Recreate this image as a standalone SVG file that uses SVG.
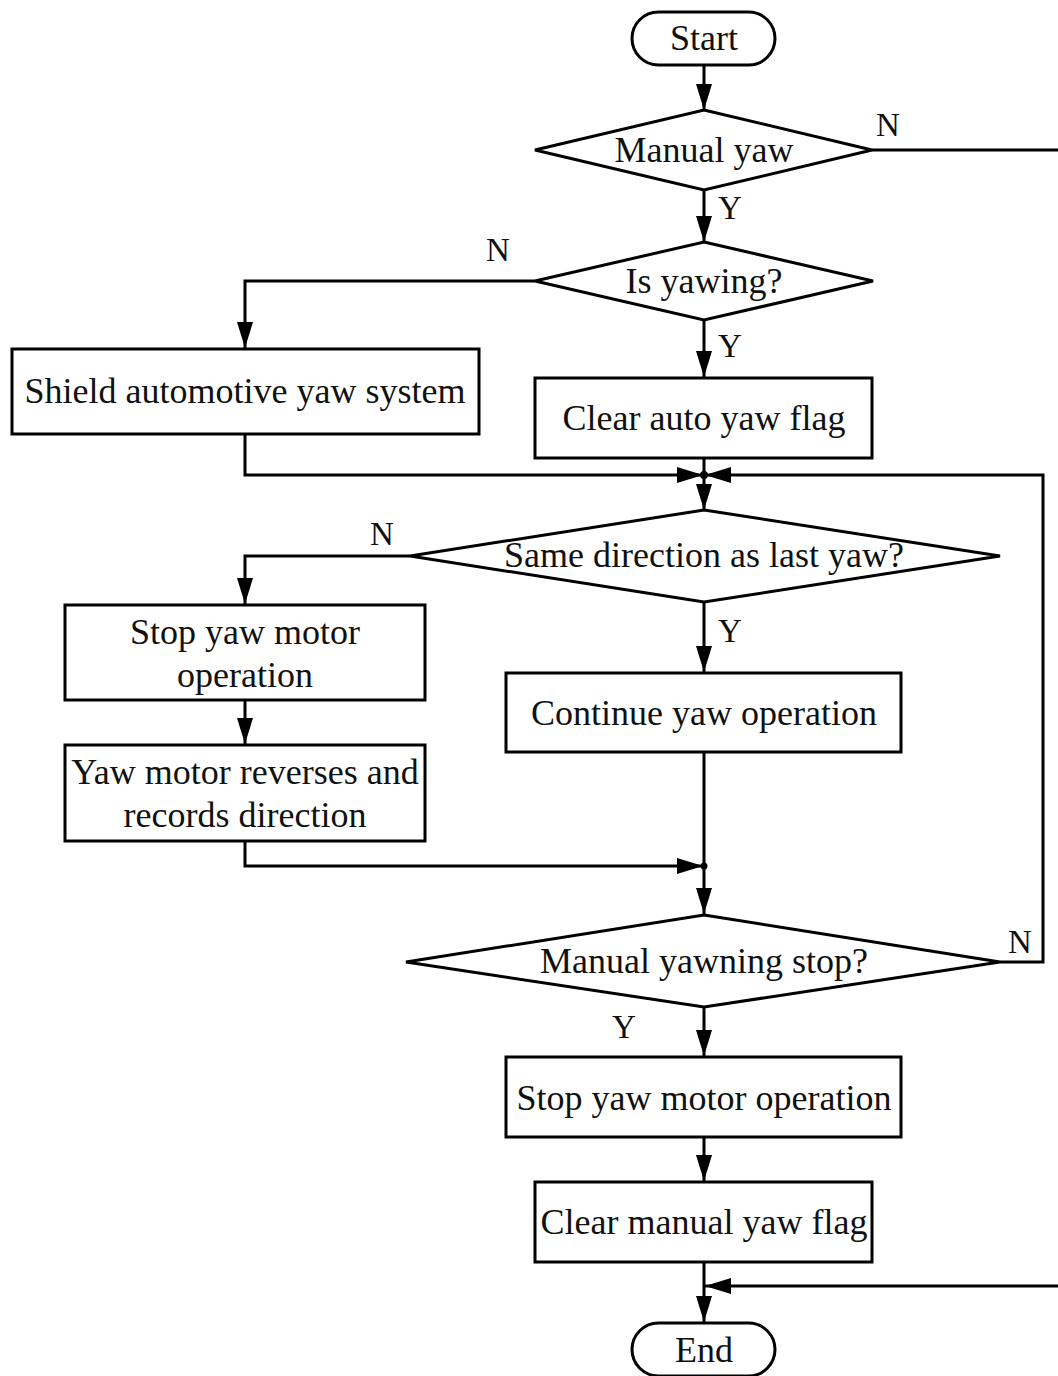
<svg xmlns="http://www.w3.org/2000/svg" width="1058" height="1376" viewBox="0 0 1058 1376">
  <style>
    .shape { fill: #ffffff; stroke: #000000; stroke-width: 3; }
    .line { fill: none; stroke: #000000; stroke-width: 3; }
    .label { font-family: "Liberation Serif", "Times New Roman", serif; font-size: 36px; fill: #111111; text-anchor: middle; }
    .yn { font-family: "Liberation Serif", "Times New Roman", serif; font-size: 33px; fill: #111111; text-anchor: middle; }
  </style>
  <defs>
    <marker id="arrow" viewBox="0 0 26 16" refX="26" refY="8" markerWidth="26" markerHeight="16" markerUnits="userSpaceOnUse" orient="auto">
      <path d="M0,0 L26,8 L0,16 Z" fill="#000000"/>
    </marker>
  </defs>
  <rect width="1058" height="1376" fill="#ffffff"/>

  <!-- connectors -->
  <g id="connectors">
    <line class="line" x1="704" y1="65" x2="704" y2="110" marker-end="url(#arrow)"/>
    <polyline class="line" points="872,150 1058,150"/>
    <line class="line" x1="704" y1="190" x2="704" y2="242" marker-end="url(#arrow)"/>
    <polyline class="line" points="535,281 245,281 245,348" marker-end="url(#arrow)"/>
    <line class="line" x1="704" y1="320" x2="704" y2="377" marker-end="url(#arrow)"/>
    <polyline class="line" points="245,434 245,475 703,475" marker-end="url(#arrow)"/>
    <polyline class="line" points="1000,962 1043,962 1043,475 705,475" marker-end="url(#arrow)"/>
    <line class="line" x1="704" y1="458" x2="704" y2="510" marker-end="url(#arrow)"/>
    <circle cx="704" cy="475" r="4" fill="#000000"/>
    <polyline class="line" points="410,556 245,556 245,604" marker-end="url(#arrow)"/>
    <line class="line" x1="704" y1="602" x2="704" y2="672" marker-end="url(#arrow)"/>
    <line class="line" x1="245" y1="700" x2="245" y2="744" marker-end="url(#arrow)"/>
    <polyline class="line" points="245,841 245,866 703,866" marker-end="url(#arrow)"/>
    <line class="line" x1="704" y1="752" x2="704" y2="914" marker-end="url(#arrow)"/>
    <circle cx="704" cy="866" r="3.5" fill="#000000"/>
    <line class="line" x1="704" y1="1007" x2="704" y2="1056" marker-end="url(#arrow)"/>
    <line class="line" x1="704" y1="1137" x2="704" y2="1181" marker-end="url(#arrow)"/>
    <polyline class="line" points="1058,1286 705,1286" marker-end="url(#arrow)"/>
    <line class="line" x1="704" y1="1262" x2="704" y2="1322" marker-end="url(#arrow)"/>
    <text class="yn" x="888" y="136">N</text>
    <text class="yn" x="730" y="219">Y</text>
    <text class="yn" x="498" y="261">N</text>
    <text class="yn" x="730" y="357">Y</text>
    <text class="yn" x="382" y="545">N</text>
    <text class="yn" x="730" y="642">Y</text>
    <text class="yn" x="1020" y="953">N</text>
    <text class="yn" x="624" y="1038">Y</text>
  </g>

  <g id="start">
    <rect class="shape" x="632" y="12" width="143" height="53" rx="26.5"/>
    <text class="label" x="704" y="50">Start</text>
  </g>
  <g id="manual-yaw">
    <polygon class="shape" points="704,110 872,150 704,190 535,150"/>
    <text class="label" x="704" y="162">Manual yaw</text>
  </g>
  <g id="is-yawing">
    <polygon class="shape" points="704,242 873,281 704,320 535,281"/>
    <text class="label" x="704" y="293">Is yawing?</text>
  </g>
  <g id="shield-auto-yaw">
    <rect class="shape" x="12" y="349" width="467" height="85"/>
    <text class="label" x="245" y="403">Shield automotive yaw system</text>
  </g>
  <g id="clear-auto-flag">
    <rect class="shape" x="535" y="378" width="337" height="80"/>
    <text class="label" x="704" y="430">Clear auto yaw flag</text>
  </g>
  <g id="same-direction">
    <polygon class="shape" points="704,510 1000,556 704,602 410,556"/>
    <text class="label" x="704" y="567">Same direction as last yaw?</text>
  </g>
  <g id="stop-motor-1">
    <rect class="shape" x="65" y="605" width="360" height="95"/>
    <text class="label" x="245" y="644">Stop yaw motor</text>
    <text class="label" x="245" y="687">operation</text>
  </g>
  <g id="reverse-record">
    <rect class="shape" x="65" y="745" width="360" height="96"/>
    <text class="label" x="245" y="784">Yaw motor reverses and</text>
    <text class="label" x="245" y="827">records direction</text>
  </g>
  <g id="continue-yaw">
    <rect class="shape" x="506" y="673" width="395" height="79"/>
    <text class="label" x="704" y="725">Continue yaw operation</text>
  </g>
  <g id="manual-stop">
    <polygon class="shape" points="704,915 1000,962 704,1007 406,962"/>
    <text class="label" x="704" y="973">Manual yawning stop?</text>
  </g>
  <g id="stop-motor-2">
    <rect class="shape" x="506" y="1057" width="395" height="80"/>
    <text class="label" x="704" y="1110">Stop yaw motor operation</text>
  </g>
  <g id="clear-manual-flag">
    <rect class="shape" x="535" y="1182" width="337" height="80"/>
    <text class="label" x="704" y="1234">Clear manual yaw flag</text>
  </g>
  <g id="end">
    <rect class="shape" x="632" y="1323" width="143" height="53" rx="26.5"/>
    <text class="label" x="704" y="1362">End</text>
  </g>
</svg>
